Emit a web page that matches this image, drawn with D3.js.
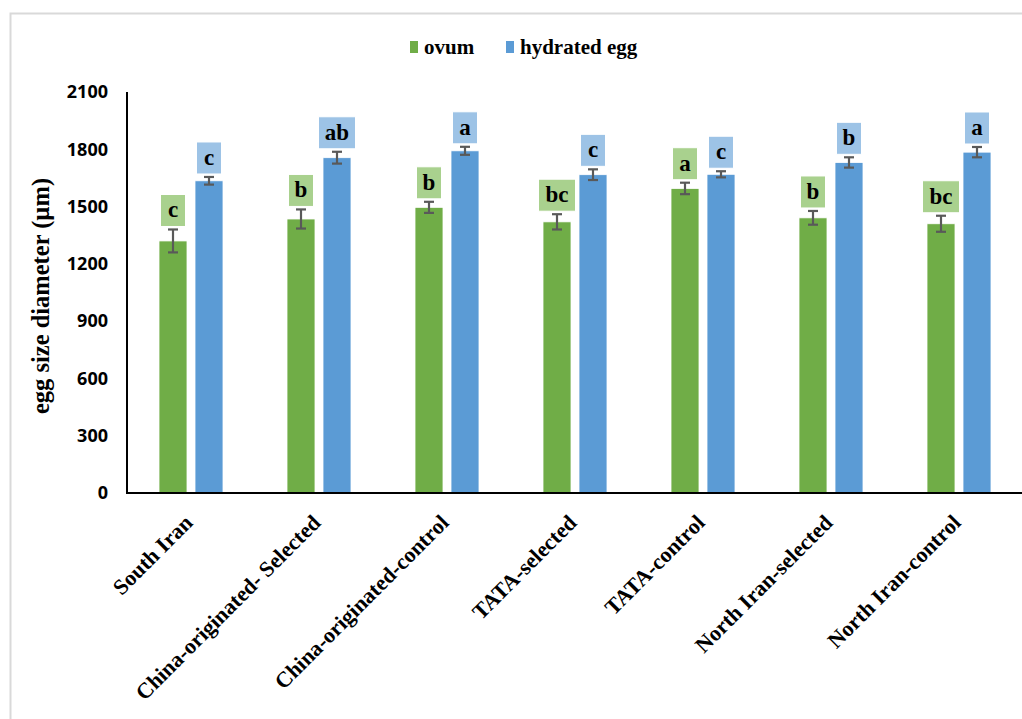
<!DOCTYPE html>
<html>
<head>
<meta charset="utf-8">
<script src="https://cdn.jsdelivr.net/npm/d3@7"></script>
<style>
  body { margin: 0; background: #fff; }
  svg { display: block; }
</style>
</head>
<body>
<svg id="chart" width="1022" height="719"></svg>
<script>
// groups on the x axis
const categories = [
  "South Iran",
  "China-originated- Selected",
  "China-originated-control",
  "TATA-selected",
  "TATA-control",
  "North Iran-selected",
  "North Iran-control",
];
const seriesNames = ["ovum", "hydrated egg"];

// mean egg diameter (µm) and error bars
const ovum = [1320, 1435, 1496, 1420, 1595, 1441, 1410];
const ovumErr = [60, 50, 29, 40, 30, 36, 42];
const hydrated = [1635, 1756, 1792, 1667, 1669, 1731, 1785];
const hydratedErr = [20, 31, 21, 28, 16, 27, 27];

// significance letters
const ovumLetters = ["c", "b", "b", "bc", "a", "b", "bc"];
const hydratedLetters = ["c", "ab", "a", "c", "c", "b", "a"];

const yTicks = [0, 300, 600, 900, 1200, 1500, 1800, 2100];

const COLORS = {
  ovum: "#70AD47",
  hydrated: "#5B9BD5",
  ovumBox: "#A9D18E",
  hydratedBox: "#9DC3E6",
  err: "#595959",
};
const SERIF = "'Liberation Serif', 'Times New Roman', serif";

const svg = d3.select("#chart");

// outer chart frame
svg.append("rect")
  .attr("x", 10.5).attr("y", 13.5)
  .attr("width", 1030).attr("height", 720)
  .attr("fill", "#fff")
  .attr("stroke", "#D9D9D9")
  .attr("stroke-width", 2);

const plot = { left: 127, right: 1023, top: 92, bottom: 493 };

const x = d3.scaleBand().domain(categories).range([plot.left, plot.right]);
const y = d3.scaleLinear().domain([0, 2100]).range([plot.bottom, plot.top]);

const barW = 28, barGap = 8;

// rows: one per bar
const rows = [];
categories.forEach((c, i) => {
  rows.push({ cat: c, s: 0, v: ovum[i], e: ovumErr[i], l: ovumLetters[i] });
  rows.push({ cat: c, s: 1, v: hydrated[i], e: hydratedErr[i], l: hydratedLetters[i] });
});
const barX = (d) => x(d.cat) + x.bandwidth() / 2 + (d.s === 0 ? -barGap / 2 - barW : barGap / 2);

// y tick labels
svg.append("g")
  .selectAll("text")
  .data(yTicks)
  .enter()
  .append("text")
  .attr("x", 108)
  .attr("y", (d) => y(d))
  .attr("dy", "0.35em")
  .attr("text-anchor", "end")
  .style("font-family", "'Open Sans', sans-serif")
  .style("font-weight", "bold")
  .style("font-size", "18px")
  .style("fill", "#000")
  .text((d) => d);

// y title
svg.append("text")
  .attr("transform", "translate(49, 296) rotate(-90)")
  .attr("text-anchor", "middle")
  .style("font-family", SERIF)
  .style("font-weight", "bold")
  .style("font-size", "24.5px")
  .text("egg size diameter (µm)");

// bars
svg.append("g")
  .selectAll("rect")
  .data(rows)
  .enter()
  .append("rect")
  .attr("x", barX)
  .attr("y", (d) => y(d.v))
  .attr("width", barW)
  .attr("height", (d) => y(0) - y(d.v))
  .attr("fill", (d) => (d.s === 0 ? COLORS.ovum : COLORS.hydrated))
  .attr("stroke", "#fff")
  .attr("stroke-width", 0.8);

// error bars
const errG = svg.append("g")
  .attr("stroke", COLORS.err)
  .attr("stroke-width", 2.2);
rows.forEach((d) => {
  const cx = barX(d) + barW / 2;
  errG.append("line").attr("x1", cx).attr("x2", cx).attr("y1", y(d.v + d.e)).attr("y2", y(d.v - d.e));
  errG.append("line").attr("x1", cx - 5).attr("x2", cx + 5).attr("y1", y(d.v + d.e)).attr("y2", y(d.v + d.e));
  errG.append("line").attr("x1", cx - 5).attr("x2", cx + 5).attr("y1", y(d.v - d.e)).attr("y2", y(d.v - d.e));
});

// letter boxes
const boxes = svg.append("g")
  .selectAll("g")
  .data(rows)
  .enter()
  .append("g")
  .attr("transform", (d) => {
    const cx = barX(d) + barW / 2;
    return `translate(${cx}, ${y(d.v + d.e) - 3 - 32})`;
  });
boxes.append("rect")
  .attr("x", (d) => (d.l.length > 1 ? -18.5 : -12.5))
  .attr("width", (d) => (d.l.length > 1 ? 37 : 25))
  .attr("height", 32)
  .attr("fill", (d) => (d.s === 0 ? COLORS.ovumBox : COLORS.hydratedBox))
  .attr("stroke", "#fff")
  .attr("stroke-width", 1);
boxes.append("text")
  .attr("y", 16)
  .attr("dy", "0.3em")
  .attr("text-anchor", "middle")
  .style("font-family", SERIF)
  .style("font-weight", "bold")
  .style("font-size", "23px")
  .text((d) => d.l);

// axes lines
svg.append("line")
  .attr("x1", plot.left).attr("x2", plot.left)
  .attr("y1", plot.top).attr("y2", plot.bottom)
  .attr("stroke", "#000").attr("stroke-width", 2);
svg.append("line")
  .attr("x1", plot.left - 1).attr("x2", plot.right)
  .attr("y1", plot.bottom).attr("y2", plot.bottom)
  .attr("stroke", "#000").attr("stroke-width", 2);

// x labels, rotated
svg.append("g")
  .selectAll("text")
  .data(categories)
  .enter()
  .append("text")
  .attr("transform", (d) => `translate(${x(d) + x.bandwidth() / 2 + 3}, ${plot.bottom + 31}) rotate(-45)`)
  .attr("text-anchor", "end")
  .style("font-family", SERIF)
  .style("font-weight", "bold")
  .style("font-size", "22px")
  .text((d) => d);

// legend
const legend = svg.append("g").attr("transform", "translate(410, 47)");
const legendX = [0, 96];
const lg = legend.selectAll("g")
  .data(seriesNames)
  .enter()
  .append("g")
  .attr("transform", (d, i) => `translate(${legendX[i]}, 0)`);
lg.append("rect")
  .attr("x", 0).attr("y", -6)
  .attr("width", 8).attr("height", 12)
  .attr("fill", (d, i) => (i === 0 ? COLORS.ovum : COLORS.hydrated));
lg.append("text")
  .attr("x", 14)
  .attr("dy", "0.32em")
  .style("font-family", SERIF)
  .style("font-weight", "bold")
  .style("font-size", "21px")
  .text((d) => d);
</script>
</body>
</html>
